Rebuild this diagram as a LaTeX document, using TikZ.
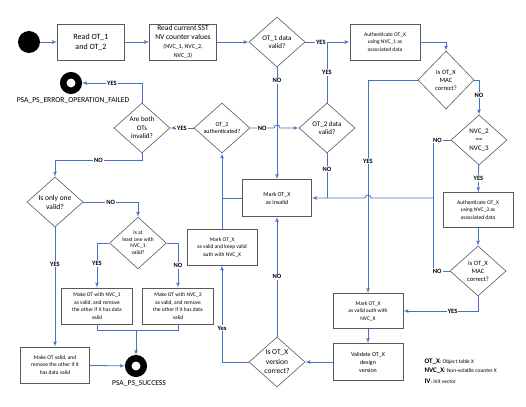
\documentclass[tikz,border=0pt]{standalone}
\usepackage{fontspec}
\setmainfont{Carlito}
\usepackage{tikz}
\usetikzlibrary{shapes.geometric, positioning, arrows}
\definecolor{flowblue}{HTML}{4472C4}
\definecolor{boxgray}{HTML}{595959}
\newcommand{\fsz}[2]{\fontsize{#1}{#2}\selectfont}
\tikzset{
x=1pt, y=-1pt, % one unit is one pixel of the sketch, y grows downwards
>=latex', % small filled arrow heads
flow/.style={draw=flowblue, line width=0.8pt}, % the blue connectors
box/.style={rectangle, draw=boxgray, line width=0.6pt, minimum width=70pt, minimum height=36pt, align=center, inner sep=1pt}, % process steps
dec/.style={diamond, draw=boxgray, line width=0.6pt, minimum width=56pt, minimum height=50pt, aspect=1.1, align=center, inner sep=0pt}, % decisions
lbl/.style={fill=white, inner sep=1pt, font=\bfseries\fsz{6.5}{7}}, % YES / NO on the connectors
ring/.style={circle, draw=black, line width=6.5pt, minimum size=15.5pt, inner sep=0pt}, % end states
}

\begin{document}
\begin{tikzpicture}
\useasboundingbox (0,0) rectangle (526,406);
% top row
\node[circle, fill=black, minimum size=22pt, inner sep=0pt] (start) at (29,42) {};
\node[box, minimum width=67pt, font=\fsz{8}{10}] (readot) at (91,42) {Read OT\_1\\and OT\_2};
\node[box, minimum width=67pt, font=\fsz{7.5}{9}] (readnvc) at (183,42) {Read current SST\\NV counter values\\{\fsz{6}{7}(NVC\_1, NVC\_2,}\\{\fsz{6}{7}NVC\_3)}};
\node[dec, font=\fsz{7}{8.5}] (otone) at (277,42) {OT\_1 data\\valid?};
\node[box, font=\fsz{5.5}{7.5}] (authone) at (385,42) {Authenticate OT\_X\\using NVC\_1 as\\associated data};
% right column
\node[dec, minimum height=58pt, font=\fsz{6.5}{8}] (macone) at (446,80) {Is OT\_X\\MAC\\correct?};
\node[dec, font=\fsz{7}{8.5}] (nvceq) at (479,140) {NVC\_2\\==\\NVC\_3};
\node[box, minimum height=35pt, font=\fsz{5.5}{7.5}] (authtwo) at (478,210) {Authenticate OT\_X\\using NVC\_3 as\\associated data};
\node[dec, font=\fsz{6.5}{8}] (mactwo) at (478,271) {Is OT\_X\\MAC\\correct?};
\node[box, minimum height=35pt, font=\fsz{5.5}{7.5}] (validauth) at (368,311) {Mark OT\_X\\as valid auth with\\NVC\_X};
\node[box, minimum height=37pt, font=\fsz{6}{8}] (validate) at (368,362) {Validate OT\_X\\design\\version};
\node[dec, font=\fsz{7.5}{9.5}] (version) at (277,362) {Is OT\_X\\version\\correct?};
% middle
\node[box, font=\fsz{5.5}{7.5}] (keep) at (222,247) {Mark OT\_X\\as valid and keep valid\\auth with NVC\_X};
\node[box, minimum width=69pt, minimum height=37pt, font=\fsz{6}{8}] (invalid) at (277,198) {Mark OT\_X\\as invalid};
\node[dec, font=\fsz{7}{8.5}] (ottwo) at (327,128) {OT\_2 data\\valid?};
\node[dec, font=\fsz{6}{7.5}] (otauth) at (222,128) {OT\_2\\authenticated?};
\node[dec, font=\fsz{7}{8.5}] (both) at (142,128) {Are both\\OTs\\invalid?};
\node[ring] (failed) at (71,83) {};
\node[font=\fsz{7.6}{8}] (failtxt) at (73,101) {PSA\_PS\_ERROR\_OPERATION\_FAILED};
% left part
\node[dec, font=\fsz{7.5}{9}] (onlyone) at (55,202) {Is only one\\valid?};
\node[dec, font=\fsz{5.5}{6.5}] (atleast) at (138,243) {Is at\\least one with\\NVC\_1\\valid?};
\node[box, minimum width=71pt, font=\fsz{5.5}{7.5}] (makeone) at (97,306) {Make OT with NVC\_1\\as valid, and remove\\the other if it has data\\valid};
\node[box, minimum width=71pt, font=\fsz{5.5}{7.5}] (makethree) at (178,306) {Make OT with NVC\_3\\as valid, and remove\\the other if it has data\\valid};
\node[box, minimum width=69pt, font=\fsz{5.5}{7.5}] (makevalid) at (55,365) {Make OT valid, and\\remove the other if it\\has data valid};
\node[ring] (success) at (136,366) {};
\node[font=\fsz{7.6}{8}] (successtxt) at (139,384) {PSA\_PS\_SUCCESS};
% legend
\node[anchor=west, font=\fsz{5.5}{7}] (legot) at (421,362) {{\bfseries\fsz{7}{7}OT\_X}: Object table X};
\node[anchor=west, font=\fsz{5.5}{7}] (legnvc) at (421,371) {{\bfseries\fsz{7}{7}NVC\_X}: Non-volatile counter X};
\node[anchor=west, font=\fsz{5.5}{7}] (legiv) at (421,381) {{\bfseries\fsz{7}{7}IV}: Init vector};
\coordinate (nobus) at (433,198);
\coordinate (donejoin) at (136,330);

\draw[flow, ->] (start) -- (readot);
\draw[flow, ->] (readot) -- (readnvc);
\draw[flow, ->] (readnvc) -- (otone);
\draw[flow, ->] (otone) -- node[lbl, pos=0.35]{YES} (authone);
\draw[flow] (ottwo) -- node[lbl]{YES} (ottwo |- otone);
\draw[flow, ->] (otone) -- node[lbl, pos=0.12]{NO} (invalid);
\draw[flow, ->] (otauth.east) -- node[lbl]{NO} ([xshift=-3pt]otone |- otauth) .. controls +(0,-4) and +(0,-4) .. ++(6,0) -- (ottwo.west);
\draw[flow, ->] (otauth) -- node[lbl]{YES} (both);
\draw[flow, ->] (both.north) |- node[lbl, pos=0.75]{YES} (failed.east);
\draw[flow, ->] (both.south) -- ++(0,7) -| node[lbl, pos=0.25]{NO} (onlyone.north);
\draw[flow, ->] (onlyone.east) -| node[lbl, pos=0.25]{NO} (atleast.north);
\draw[flow, ->] (onlyone) -- node[lbl, pos=0.31]{YES} (makevalid);
\draw[flow, ->] (atleast.west) -| node[lbl, pos=0.73]{YES} (makeone.north);
\draw[flow, ->] (atleast.east) -| node[lbl, pos=0.75]{NO} (makethree.north);
\draw[flow, ->] (makeone.south) |- (donejoin) -- (success.north);
\draw[flow] (makethree.south) |- (donejoin);
\draw[flow, ->] (makevalid) -- (success);
\draw[flow, ->] (authone.east) -| (macone.north);
\draw[flow, ->] (macone.west) -| node[lbl, pos=0.69]{YES} (validauth.north);
\draw[flow, ->] (macone.east) -| node[lbl, pos=0.72]{NO} (nvceq.north);
\draw[flow, ->] (nvceq) -- node[lbl]{YES} (authtwo);
\draw[flow, ->] (authtwo) -- (mactwo);
\draw[flow, ->] (mactwo.south) |- node[lbl, pos=0.67]{YES} (validauth.east);
\draw[flow] (nvceq.west) -- node[lbl, pos=0.75]{NO} (nvceq.west -| nobus) -- (mactwo.west -| nobus) -- node[lbl, pos=0.25]{NO} (mactwo.west);
\draw[flow, ->] (nobus) -- ([xshift=3pt]validauth.north |- nobus) .. controls +(0,-4) and +(0,-4) .. ++(-6,0) -- (invalid.east);
\draw[flow] (ottwo.south) -- node[lbl, pos=0.35]{NO} (ottwo.south |- invalid);
\draw[flow, ->] (version) -- node[lbl, pos=0.5]{NO} (invalid);
\draw[flow, ->] (version.west) -| node[lbl, pos=0.675]{Yes} (keep.south);
\draw[flow, ->] (keep) -- (otauth);
\draw[flow] (invalid.west) -- (invalid.west -| keep.north);
\draw[flow, ->] (validauth) -- (validate);
\draw[flow, ->] (validate) -- (version);
\end{tikzpicture}
\end{document}
